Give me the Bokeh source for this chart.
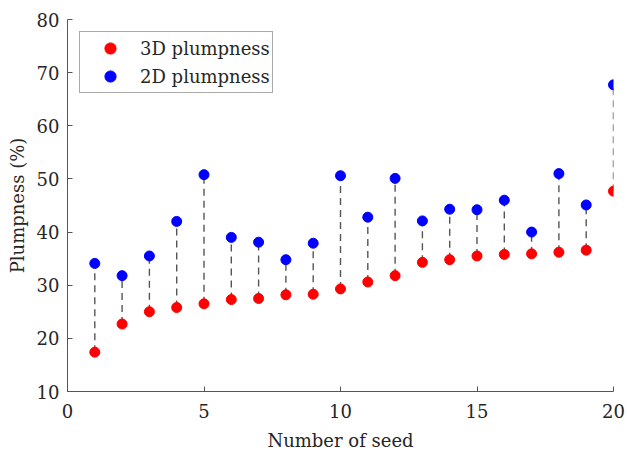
from bokeh.plotting import figure
from bokeh.models import FixedTicker, Range1d, Legend, LegendItem
from bokeh.embed import file_html
from bokeh.resources import INLINE

seeds = list(range(1, 21))
plump_3d = [17.4, 22.7, 25.0, 25.8, 26.5, 27.3, 27.5, 28.2, 28.3, 29.3,
            30.6, 31.8, 34.3, 34.8, 35.5, 35.8, 35.9, 36.2, 36.6, 47.7]
plump_2d = [34.1, 31.8, 35.5, 42.0, 50.8, 39.0, 38.1, 34.8, 37.9, 50.6,
            42.8, 50.1, 42.1, 44.3, 44.2, 46.0, 40.0, 51.0, 45.1, 67.7]
x_ticks = [0, 5, 10, 15, 20]
y_ticks = [10, 20, 30, 40, 50, 60, 70, 80]

FONT = "DejaVu Serif"
TXT = "#262626"

p = figure(width=627, height=455, output_backend="svg", toolbar_location=None,
           x_range=Range1d(0, 20), y_range=Range1d(10, 80),
           min_border_left=67, min_border_right=14, min_border_top=19, min_border_bottom=64)
p.outline_line_color = None
p.grid.visible = False
p.background_fill_color = "white"
p.border_fill_color = "white"

p.segment(x0=seeds, y0=plump_3d, x1=seeds, y1=plump_2d,
          line_color="#555555", line_width=1.4, line_dash="7 5")
r3 = p.scatter(seeds, plump_3d, size=10, color="#ff0000", line_color="#ff0000")
r2 = p.scatter(seeds, plump_2d, size=10, color="#0000ff", line_color="#0000ff")

for ax in (p.xaxis[0], p.yaxis[0]):
    ax.axis_line_color = "#555555"
    ax.axis_line_width = 1
    ax.major_tick_line_color = "#555555"
    ax.major_tick_in = 5
    ax.major_tick_out = 0
    ax.minor_tick_line_color = None
    ax.major_label_text_font = FONT
    ax.major_label_text_font_size = "18px"
    ax.major_label_text_color = TXT
    ax.axis_label_text_font = FONT
    ax.axis_label_text_font_size = "18px"
    ax.axis_label_text_font_style = "normal"
    ax.axis_label_text_color = TXT

p.xaxis[0].ticker = FixedTicker(ticks=x_ticks)
p.yaxis[0].ticker = FixedTicker(ticks=y_ticks)
p.xaxis[0].axis_label = "Number of seed"
p.yaxis[0].axis_label = "Plumpness (%)"
p.xaxis[0].major_label_standoff = 12
p.yaxis[0].major_label_standoff = 8
p.xaxis[0].axis_label_standoff = 9
p.yaxis[0].axis_label_standoff = 6

legend = Legend(items=[LegendItem(label="3D plumpness", renderers=[r3]),
                       LegendItem(label="2D plumpness", renderers=[r2])],
                location=(12, 298))
legend.label_text_font = FONT
legend.label_text_font_size = "18px"
legend.label_text_color = TXT
legend.border_line_color = "#555555"
legend.border_line_width = 1
legend.padding = 2
legend.spacing = 0
legend.glyph_width = 56
legend.glyph_height = 28
legend.label_height = 28
legend.label_standoff = 2
legend.margin = 0
p.add_layout(legend, "center")

open("out.html", "w").write(file_html(p, INLINE))
